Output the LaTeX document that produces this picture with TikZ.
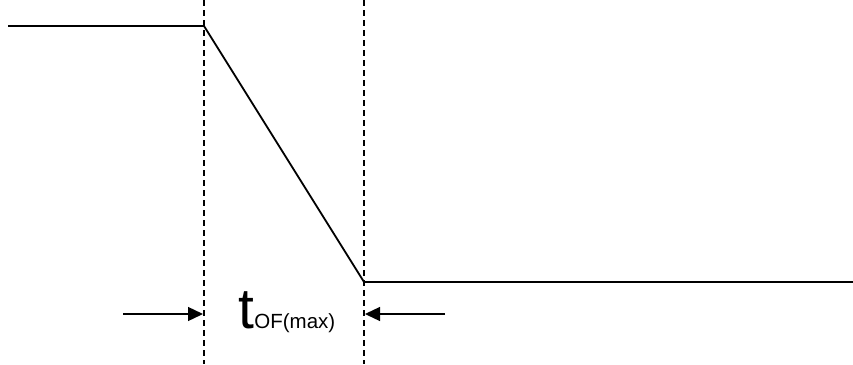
\documentclass[tikz,border=0pt]{standalone}
\usepackage{fontspec}
\setmainfont{Liberation Sans}
\usetikzlibrary{arrows.meta}
\begin{document}
\begin{tikzpicture}[x=1pt, y=-1pt,
  signal/.style={line width=1.8pt},
  guide/.style={line width=1.2pt, dash pattern=on 6pt off 4pt},
  marker/.style={line width=1.3pt, -{Triangle[length=15pt, width=14pt]}}]
  \useasboundingbox (0,0) rectangle (853,364);
  % waveform corners
  \coordinate (start) at (8,26);
  \coordinate (fallbeg) at (204,26);
  \coordinate (fallend) at (364,282);
  \coordinate (stop) at (853,282);
  \draw[signal, line join=round] (start) -- (fallbeg) -- (fallend) -- (stop);
  % dashed guides
  \coordinate (gltop) at (204,0);  \coordinate (glbot) at (204,364);
  \coordinate (grtop) at (364,0);  \coordinate (grbot) at (364,364);
  \draw[guide] (gltop) -- (glbot);
  \draw[guide] (grtop) -- (grbot);
  % timing arrows
  \coordinate (alt) at (123,314); \coordinate (alh) at (203,314);
  \coordinate (art) at (445,314); \coordinate (arh) at (365,314);
  \draw[marker] (alt) -- (alh);
  \draw[marker] (art) -- (arh);
  \node[anchor=base west, inner sep=0pt, font=\fontsize{57}{57}\selectfont] (tof) at (238,328) {t};
  \node[anchor=base west, inner sep=0pt, font=\fontsize{20.5}{20.5}\selectfont] (tofsub) at (tof.base east) {OF(max)};
\end{tikzpicture}
\end{document}
